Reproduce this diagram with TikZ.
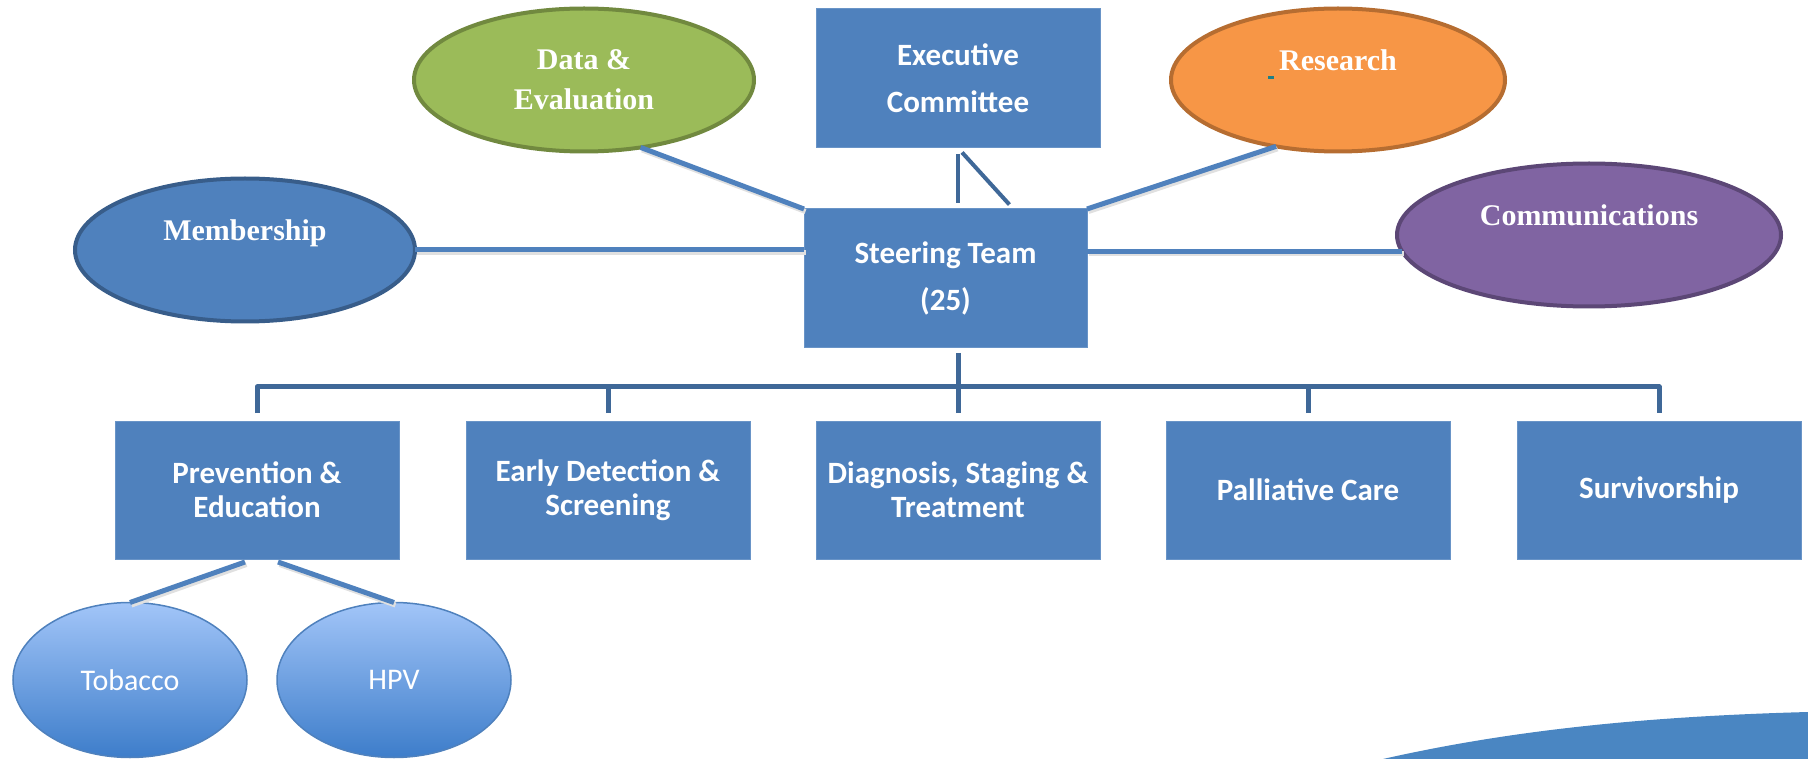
\documentclass[tikz,border=0pt]{standalone}
\usepackage{fontspec}
\setmainfont{Carlito}
\newfontfamily\ellfont{Liberation Serif}
\usetikzlibrary{shapes.geometric,calc}

\definecolor{boxblue}{HTML}{4F81BD}
\definecolor{busblue}{HTML}{3F6898}
\definecolor{membline}{HTML}{385D8A}
\definecolor{datafill}{HTML}{9BBB59}
\definecolor{dataline}{HTML}{71893F}
\definecolor{resfill}{HTML}{F79646}
\definecolor{resline}{HTML}{B66D31}
\definecolor{commfill}{HTML}{8064A2}
\definecolor{commline}{HTML}{5C4776}
\definecolor{subtop}{HTML}{A2C5F8}
\definecolor{subbot}{HTML}{3D7DCA}
\definecolor{swooshblue}{HTML}{4A86C2}
\definecolor{markteal}{HTML}{1F7F86}

\begin{document}
\begin{tikzpicture}[x=1pt, y=-1pt,
    team/.style={rectangle, fill=boxblue, draw=boxblue!85!white, line width=1pt,
      minimum width=284pt, minimum height=138pt, inner sep=0pt, outer sep=0pt,
      align=center, text=white, font=\bfseries\fontsize{31}{34}\selectfont},
    topteam/.style={team, minimum height=139pt, font=\bfseries\fontsize{31}{47}\selectfont},
    group/.style={ellipse, minimum width=340pt, minimum height=143pt, inner sep=0pt,
      outer sep=0pt, line width=4pt, align=center, text=white,
      font=\ellfont\bfseries\fontsize{30}{40}\selectfont},
    sub/.style={ellipse, minimum width=234pt, minimum height=155pt, inner sep=0pt,
      outer sep=0pt, top color=subtop, bottom color=subbot, draw=boxblue,
      line width=1.5pt, text=white, font=\fontsize{30}{36}\selectfont},
    link/.style={draw=boxblue, line width=5pt,
      preaction={draw=black!12, line width=5pt, transform canvas={shift={(1.5pt,-2.5pt)}}}},
    bus/.style={draw=busblue, line width=5pt, line join=round}]
    \useasboundingbox (0,0) rectangle (1808,759);

    % swoosh in the corner
    \fill[swooshblue] (1383,759) .. controls (1520,728) and (1660,716) .. (1808,712) -- (1808,759) -- cycle;

    % committees round the steering team
    \node[group, fill=datafill, draw=dataline] (data) at (584,80) {Data \&\\Evaluation};
    \node[topteam] (exec) at (958,78.5) {Executive\\Committee};
    \node[group, fill=resfill, draw=resline, minimum width=334pt] (res) at (1338,80) {Research\\\mbox{}};
    \node[group, fill=boxblue, draw=membline] (memb) at (245,250) {Membership\\\mbox{}};
    \node[group, fill=commfill, draw=commline, minimum width=384pt] (comm) at (1589,235) {Communications\\\mbox{}};
    \node[topteam, minimum width=283pt] (steer) at (945.5,278.5) {Steering Team\\(25)};
    \fill[markteal] (1268,76) rectangle (1274,79);

    % work groups
    \node[team] (prev) at (257,490) {Prevention \&\\Education};
    \node[team] (early) at (608,490) {Early Detection \&\\Screening};
    \node[team] (diag) at (958,490) {Diagnosis, Staging \&\\Treatment};
    \node[team] (pall) at (1308,490) {Palliative Care};
    \node[team] (surv) at (1659,490) {Survivorship};

    \node[sub] (tob) at (130,680) {Tobacco};
    \node[sub] (hpv) at (394,680) {HPV};

    % links
    \draw[link] (data.-50) -- (steer.north west);
    \draw[link] (res.-133) -- (steer.north east);
    \draw[link] (memb.east) -- (memb.east -| steer.west);
    \draw[link] (comm.185 -| steer.east) -- (comm.185);
    \draw[bus, line width=4pt, shorten <=6pt, shorten >=6pt] (exec.south) -- (exec.south |- steer.north);
    \draw[bus, line width=4pt, shorten <=6pt, shorten >=6pt] (exec.south) -- ($(steer.north west)!0.74!(steer.north east)$);

    \draw[bus, shorten <=5pt] (steer.south -| diag.north) -- ++(0,39);
    \draw[bus, shorten <=8pt, shorten >=8pt] (prev.north) -- ++(0,-34) -| (surv.north);
    \foreach \n in {early,diag,pall}
      \draw[bus, shorten <=8pt] (\n.north) -- ++(0,-34);

    \draw[link] ($(prev.south)+(-12,3)$) -- (tob.north);
    \draw[link] ($(prev.south)+(21,3)$) -- (hpv.north);
\end{tikzpicture}
\end{document}
